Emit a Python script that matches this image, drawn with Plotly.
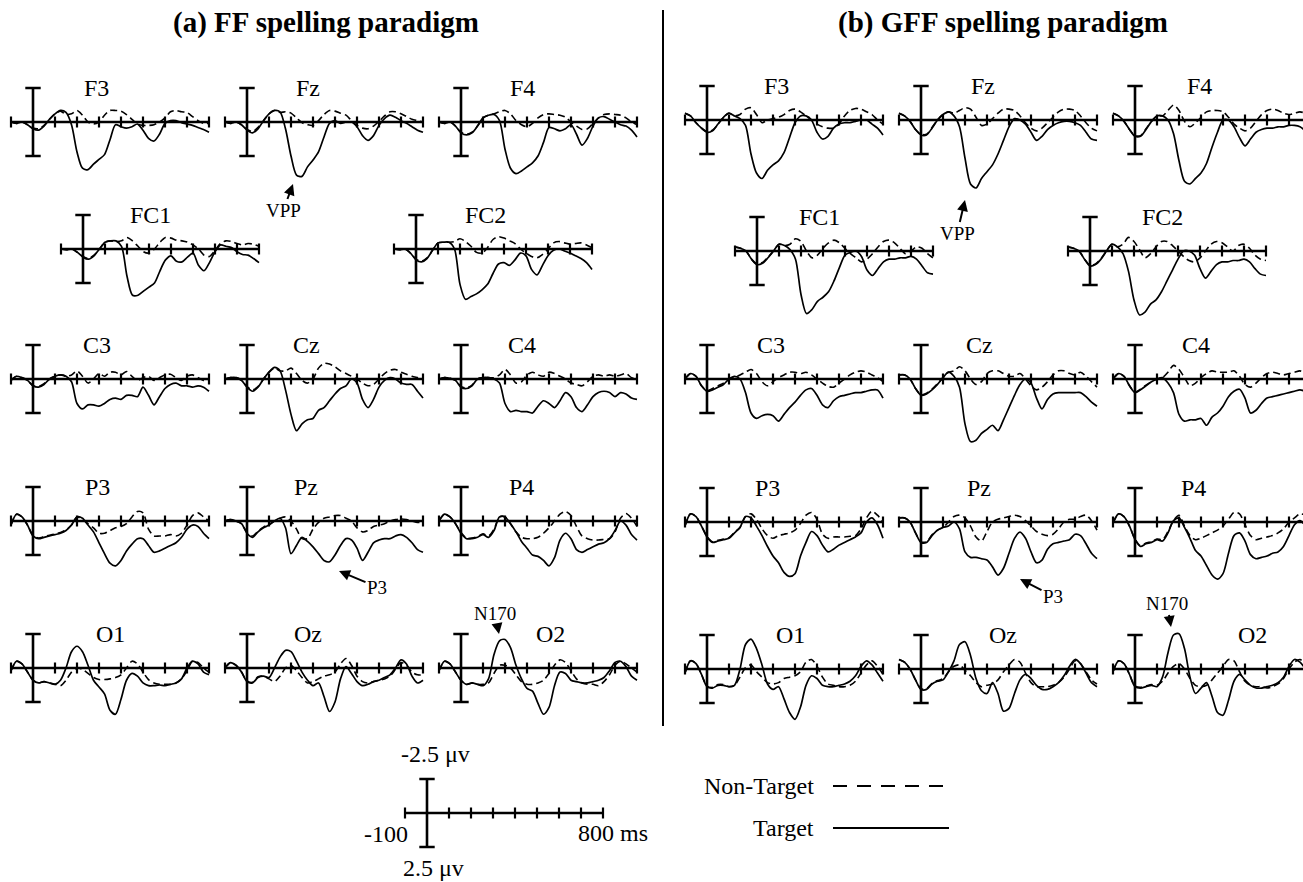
import plotly.graph_objects as go

W, H = 1303, 882
SERIF = "Liberation Serif, Times New Roman, serif"

# ---------------- time grid / scale constants ----------------
TIME_MS = [-100, -75, -50, -25, 0, 25, 50, 75, 100, 125, 150, 175, 200, 225, 250, 275,
           300, 325, 350, 375, 400, 425, 450, 475, 500, 525, 550, 575, 600, 625, 650,
           675, 700, 725, 750, 775, 800]
TICK_MS = [-100, 100, 200, 300, 400, 500, 600, 700, 800]
T_MIN, T_MAX = -100, 800
SCALE_UV = 2.5

# ---------------- (a) FF paradigm : amplitudes in microvolts (positive plotted down) ----------------
A_F3_TGT = [0.0, 0.1, 0.0, 0.2, 0.5, 0.6, 0.3, -0.2, -0.6, -0.85, -0.7, 0.2, 2.2, 3.4, 3.5, 3.1, 2.75, 2.4, 1.3, 0.2, 0.35, 0.45, 0.35, 0.15, 0.6, 1.2, 1.4, 0.9, 0.1, -0.1, -0.1, 0.05, 0.15, 0.25, 0.4, 0.55, 0.75]
A_F3_NT = [0.0, 0.1, 0.0, 0.2, 0.45, 0.5, 0.25, -0.2, -0.6, -0.8, -0.55, -0.6, -0.85, -0.5, 0.0, 0.15, 0.0, -0.5, -0.85, -0.85, -0.8, -0.55, -0.2, 0.15, 0.25, 0.25, 0.2, 0.0, -0.3, -0.75, -0.85, -0.75, -0.7, -0.4, -0.1, 0.1, 0.1]
A_FZ_TGT = [0.0, 0.1, 0.0, 0.2, 0.6, 0.8, 0.5, -0.1, -0.6, -0.85, -0.75, 0.5, 2.5, 3.9, 4.0, 3.3, 2.8, 2.2, 1.1, 0.1, -0.1, 0.1, 0.0, 0.0, 0.35, 1.0, 1.35, 1.0, 0.25, -0.25, -0.5, -0.35, -0.1, 0.1, 0.35, 0.6, 0.75]
A_FZ_NT = [0.0, 0.1, 0.0, 0.2, 0.55, 0.7, 0.4, -0.1, -0.6, -0.85, -0.7, -0.75, -0.65, -0.3, 0.05, 0.2, 0.25, -0.1, -0.55, -0.85, -0.8, -0.65, -0.5, -0.1, 0.25, 0.45, 0.5, 0.3, -0.05, -0.45, -0.75, -0.75, -0.6, -0.4, -0.2, -0.1, 0.0]
A_F4_TGT = [0.0, 0.1, 0.0, 0.3, 0.8, 0.95, 0.8, 0.3, -0.3, -0.5, -0.55, -0.1, 2.0, 3.4, 3.8, 3.6, 3.3, 3.0, 2.5, 1.5, 0.4, 0.5, 0.65, 0.5, 0.2, 0.9, 1.7, 1.2, 0.3, -0.3, -0.4, -0.2, 0.0, 0.2, 0.3, 0.6, 1.1]
A_F4_NT = [0.0, 0.1, 0.0, 0.3, 0.75, 0.9, 0.75, 0.3, -0.3, -0.5, -0.6, -0.75, -0.85, -0.6, -0.1, 0.2, 0.35, 0.1, -0.3, -0.55, -0.6, -0.55, -0.5, -0.35, 0.0, 0.3, 0.55, 0.5, 0.1, -0.3, -0.55, -0.6, -0.55, -0.5, -0.3, 0.0, 0.2]
A_FC1_TGT = [0.0, 0.05, 0.0, 0.25, 0.6, 0.75, 0.5, 0.0, -0.5, -0.6, -0.6, -0.2, 2.0, 3.4, 3.4, 3.1, 2.8, 2.5, 1.6, 0.8, 0.5, 0.9, 0.95, 0.6, 0.3, 1.2, 1.6, 1.0, 0.2, -0.3, -0.2, -0.1, 0.2, 0.4, 0.45, 0.7, 1.0]
A_FC1_NT = [0.0, 0.05, 0.0, 0.25, 0.55, 0.7, 0.45, 0.0, -0.5, -0.6, -0.55, -0.6, -0.85, -0.6, -0.2, 0.2, 0.3, 0.0, -0.5, -0.85, -0.8, -0.65, -0.6, -0.5, -0.3, 0.0, 0.45, 0.55, 0.1, -0.4, -0.6, -0.55, -0.4, -0.3, -0.4, -0.35, -0.2]
A_FC2_TGT = [0.0, 0.05, 0.0, 0.3, 0.8, 0.95, 0.7, 0.1, -0.45, -0.5, -0.5, 0.0, 2.6, 3.7, 3.5, 3.3, 3.0, 2.6, 1.8, 1.1, 1.0, 1.2, 0.8, 0.3, 0.5, 1.5, 1.9, 1.2, 0.5, 0.1, 0.0, 0.15, 0.3, 0.5, 0.7, 1.0, 1.5]
A_FC2_NT = [0.0, 0.05, 0.0, 0.3, 0.75, 0.9, 0.65, 0.1, -0.45, -0.5, -0.5, -0.55, -0.75, -0.55, -0.2, 0.25, 0.3, -0.1, -0.7, -0.9, -0.8, -0.6, -0.4, 0.0, 0.3, 0.55, 0.65, 0.4, 0.0, -0.45, -0.55, -0.45, -0.35, -0.4, -0.45, -0.3, -0.1]
A_C3_TGT = [0.1, -0.2, -0.1, 0.1, 0.5, 0.6, 0.4, 0.0, -0.2, -0.3, -0.2, 0.2, 1.8, 2.2, 1.9, 1.9, 2.0, 1.8, 1.5, 1.4, 1.5, 1.2, 1.2, 1.3, 0.6, 1.2, 1.9, 1.3, 0.7, 0.4, 0.3, 0.5, 0.5, 0.6, 0.5, 0.6, 0.9]
A_C3_NT = [0.1, -0.2, -0.1, 0.1, 0.5, 0.55, 0.35, 0.0, -0.2, -0.3, -0.2, -0.3, -0.6, -0.2, 0.3, 0.0, -0.4, -0.2, -0.5, -0.5, -0.3, -0.55, -0.2, 0.1, -0.1, -0.2, 0.1, -0.1, -0.3, -0.35, -0.1, 0.1, -0.2, -0.3, -0.1, 0.1, 0.1]
A_CZ_TGT = [0.0, -0.1, -0.1, 0.1, 0.6, 0.9, 0.6, 0.0, -0.5, -0.85, -0.6, 0.8, 2.6, 3.8, 3.3, 3.0, 2.9, 2.3, 2.1, 1.6, 1.1, 0.7, 0.5, 0.0, 0.3, 1.5, 2.1, 1.5, 0.6, 0.1, -0.1, 0.0, 0.3, 0.4, 0.4, 0.9, 1.4]
A_CZ_NT = [0.0, -0.1, -0.1, 0.1, 0.55, 0.8, 0.55, 0.0, -0.5, -0.8, -0.6, -0.6, -0.8, -0.4, 0.1, 0.3, 0.0, -0.8, -1.15, -1.1, -0.9, -0.6, -0.4, -0.2, 0.0, 0.3, 0.5, 0.4, 0.0, -0.4, -0.65, -0.7, -0.5, -0.35, -0.2, -0.1, 0.0]
A_C4_TGT = [0.0, -0.1, -0.05, 0.1, 0.6, 0.7, 0.5, 0.0, -0.1, -0.1, 0.0, 0.3, 1.8, 2.4, 2.3, 2.4, 2.4, 2.5, 2.0, 1.6, 1.8, 2.1, 1.6, 1.0, 1.3, 2.1, 2.4, 1.9, 1.3, 1.0, 0.9, 1.0, 1.3, 1.0, 1.1, 1.4, 1.5]
A_C4_NT = [0.0, -0.1, -0.05, 0.1, 0.55, 0.65, 0.45, 0.0, -0.1, -0.1, -0.1, -0.3, -0.7, -0.3, 0.3, 0.2, -0.3, -0.5, -0.3, -0.2, -0.5, -0.4, -0.2, 0.0, 0.3, 0.4, 0.5, 0.2, -0.2, -0.3, -0.2, -0.3, -0.2, -0.3, -0.4, -0.1, 0.0]
A_P3_TGT = [0.3, -0.5, -0.3, 0.3, 1.1, 1.3, 1.2, 1.1, 1.0, 0.9, 0.7, 0.3, -0.3, -0.2, 0.3, 0.8, 1.6, 2.4, 3.1, 3.3, 2.9, 2.2, 1.7, 1.3, 1.3, 1.8, 2.3, 2.2, 2.0, 1.8, 1.6, 1.2, 0.6, 0.3, 0.4, 0.9, 1.3]
A_P3_NT = [0.3, -0.5, -0.3, 0.3, 1.05, 1.25, 1.15, 1.05, 0.95, 0.85, 0.65, 0.3, -0.3, -0.1, 0.2, 0.5, 0.9, 0.9, 0.7, 0.5, 0.4, 0.2, -0.3, -0.7, -0.6, 0.6, 1.1, 1.1, 1.1, 1.0, 1.1, 0.9, 0.3, -0.4, -0.6, -0.3, 0.0]
A_PZ_TGT = [0.0, -0.1, 0.0, 0.2, 0.9, 1.2, 0.8, 0.5, 0.3, 0.0, -0.2, 0.5, 2.4, 1.8, 1.2, 1.5, 1.9, 2.4, 2.9, 3.0, 2.5, 1.8, 1.3, 1.4, 2.0, 2.9, 2.3, 1.6, 1.4, 1.3, 1.3, 1.1, 1.0, 1.2, 1.6, 2.1, 2.3]
A_PZ_NT = [0.0, -0.1, 0.0, 0.2, 0.85, 1.1, 0.75, 0.45, 0.25, 0.0, -0.2, -0.3, 0.0, 0.6, 1.3, 1.3, 0.6, 0.1, -0.2, -0.3, -0.4, -0.4, -0.2, 0.0, 0.5, 0.8, 0.7, 0.4, 0.3, 0.2, 0.0, -0.1, -0.15, -0.1, 0.0, 0.1, 0.1]
A_P4_TGT = [0.0, -0.5, -0.3, 0.2, 0.9, 1.3, 1.3, 1.2, 1.0, 1.2, 0.7, -0.3, -0.3, 0.2, 0.8, 1.5, 2.0, 2.5, 2.6, 2.9, 3.3, 2.7, 1.4, 0.9, 1.3, 2.1, 2.3, 2.1, 1.9, 1.7, 1.6, 1.3, 0.7, 0.0, 0.3, 1.0, 1.4]
A_P4_NT = [0.0, -0.5, -0.3, 0.2, 0.85, 1.25, 1.25, 1.15, 0.95, 1.1, 0.6, -0.3, -0.3, 0.2, 0.8, 1.2, 1.3, 1.3, 1.2, 0.9, 0.5, 0.0, -0.5, -0.7, -0.4, 0.4, 1.1, 1.3, 1.4, 1.4, 1.35, 1.3, 0.8, -0.2, -0.55, -0.2, 0.4]
A_O1_TGT = [0.2, -0.5, -0.3, 0.3, 0.9, 1.1, 1.0, 1.1, 1.2, 0.9, 0.0, -1.2, -1.6, -1.2, -0.2, 0.9, 1.4, 1.9, 3.1, 3.4, 2.3, 0.9, 0.4, 0.6, 1.1, 1.3, 1.3, 1.25, 1.3, 1.2, 1.1, 0.8, 0.0, -0.5, -0.3, 0.3, 0.5]
A_O1_NT = [0.2, -0.5, -0.3, 0.3, 0.9, 1.1, 1.0, 1.1, 1.2, 1.3, 0.9, 0.3, 0.0, 0.1, 0.4, 0.7, 0.85, 0.85, 0.8, 0.7, 0.5, 0.0, -0.5, -0.3, 0.3, 0.85, 1.1, 1.2, 1.2, 1.2, 1.1, 0.8, 0.2, -0.5, -0.4, 0.0, 0.3]
A_OZ_TGT = [0.0, -0.4, -0.2, 0.3, 1.0, 1.1, 0.7, 0.6, 0.7, 0.0, -0.8, -1.3, -1.2, -0.5, 0.3, 0.9, 1.3, 1.1, 2.1, 3.2, 2.5, 0.8, -0.1, 0.4, 1.0, 1.3, 1.2, 1.0, 0.9, 0.7, 0.5, 0.0, -0.6, -0.3, 0.6, 1.1, 0.9]
A_OZ_NT = [0.0, -0.4, -0.2, 0.3, 0.95, 1.05, 0.65, 0.6, 0.8, 1.0, 0.6, 0.0, -0.2, 0.2, 0.7, 1.1, 1.0, 0.8, 0.6, 0.5, 0.3, -0.3, -0.7, -0.2, 0.6, 1.0, 1.1, 1.0, 0.9, 0.8, 0.6, 0.1, -0.4, -0.2, 0.3, 0.5, 0.5]
A_O2_TGT = [0.2, -0.5, -0.3, 0.3, 0.9, 1.2, 1.1, 1.2, 1.3, 0.8, -1.0, -2.0, -2.1, -1.5, -0.2, 0.8, 1.5, 1.7, 2.6, 3.4, 2.9, 1.3, 0.3, 0.4, 0.9, 1.0, 1.1, 1.1, 1.0, 0.9, 0.7, 0.2, -0.4, -0.5, -0.1, 0.6, 0.9]
A_O2_NT = [0.2, -0.5, -0.3, 0.3, 0.9, 1.2, 1.1, 1.2, 1.2, 1.1, 0.4, -0.2, -0.2, 0.0, 0.5, 1.0, 1.2, 1.2, 1.1, 0.9, 0.4, -0.2, -0.6, -0.4, 0.2, 0.8, 1.1, 1.2, 1.2, 1.3, 1.0, 0.5, -0.2, -0.5, -0.3, 0.0, 0.3]

# ---------------- (b) GFF paradigm ----------------
B_F3_TGT = [-0.5, -0.3, 0.2, 0.6, 0.9, 0.8, 0.3, -0.2, -0.5, -0.3, -0.1, 0.4, 2.5, 3.9, 4.3, 3.7, 3.3, 3.0, 2.4, 1.3, 0.2, -0.3, -0.3, 0.0, 0.9, 1.4, 1.2, 0.6, 0.3, 0.2, 0.2, 0.1, 0.0, 0.0, 0.3, 0.6, 1.1]
B_F3_NT = [-0.5, -0.3, 0.2, 0.6, 0.85, 0.75, 0.3, -0.2, -0.5, -0.3, -0.4, -0.8, -0.9, -0.4, 0.2, 0.0, -0.1, -0.2, -0.4, -0.7, -0.8, -0.6, -0.3, 0.0, 0.3, 0.5, 0.6, 0.6, 0.3, -0.3, -0.7, -0.85, -0.8, -0.6, -0.4, 0.0, 0.3]
B_FZ_TGT = [-0.5, -0.3, 0.1, 0.7, 1.1, 1.1, 0.6, 0.0, -0.4, -0.6, -0.3, 0.5, 2.8, 4.7, 5.0, 4.3, 3.8, 3.3, 2.5, 1.5, 0.5, -0.1, 0.0, 0.3, 0.9, 1.5, 1.2, 0.7, 0.4, 0.2, 0.1, 0.1, 0.2, 0.4, 0.9, 1.4, 1.5]
B_FZ_NT = [-0.5, -0.3, 0.1, 0.7, 1.05, 1.05, 0.55, 0.0, -0.4, -0.6, -0.5, -0.7, -0.9, -0.8, -0.2, 0.4, 0.3, -0.1, -0.5, -0.8, -0.8, -0.7, -0.3, 0.2, 0.6, 0.8, 0.6, 0.2, -0.2, -0.6, -0.8, -0.8, -0.7, -0.3, 0.2, 0.6, 0.8]
B_F4_TGT = [-0.5, -0.3, 0.1, 0.7, 1.2, 1.2, 0.7, 0.1, -0.3, -0.3, 0.0, 1.0, 3.0, 4.5, 4.7, 4.3, 3.9, 3.2, 2.0, 0.9, 0.0, 0.0, 0.5, 1.3, 1.9, 1.4, 0.9, 0.7, 0.6, 0.6, 0.5, 0.5, 0.4, 0.4, 0.5, 0.8, 1.1]
B_F4_NT = [-0.5, -0.3, 0.1, 0.7, 1.15, 1.15, 0.65, 0.1, -0.3, -0.3, -0.7, -1.1, -0.7, 0.1, 0.5, 0.2, -0.2, -0.6, -0.7, -0.7, -0.6, -0.2, 0.3, 0.6, 0.8, 0.6, 0.1, -0.4, -0.7, -0.8, -0.7, -0.5, -0.4, -0.5, -0.6, -0.5, -0.4]
B_FC1_TGT = [-0.3, -0.2, 0.0, 0.6, 1.0, 0.9, 0.5, 0.0, -0.5, -0.4, -0.1, 0.6, 3.2, 4.6, 4.3, 3.7, 3.4, 3.0, 2.2, 1.2, 0.3, 0.1, 0.0, 0.4, 1.4, 1.8, 1.3, 0.8, 0.6, 0.6, 0.5, 0.5, 0.4, 0.6, 1.1, 1.6, 1.7]
B_FC1_NT = [-0.3, -0.2, 0.0, 0.6, 0.95, 0.85, 0.45, 0.0, -0.5, -0.4, -0.5, -0.9, -0.7, 0.0, 0.5, 0.3, -0.2, -0.6, -0.8, -0.6, -0.2, 0.2, 0.5, 0.8, 0.6, 0.2, -0.3, -0.7, -0.8, -0.6, -0.2, 0.2, 0.0, -0.3, -0.2, 0.2, 0.5]
B_FC2_TGT = [-0.3, -0.2, 0.0, 0.6, 1.1, 1.0, 0.6, 0.0, -0.5, -0.3, 0.2, 1.5, 3.6, 4.7, 4.5, 3.9, 3.6, 3.0, 2.2, 1.4, 0.6, 0.0, 0.0, 0.3, 1.3, 2.0, 1.5, 1.0, 0.8, 0.8, 0.7, 0.7, 0.6, 0.8, 1.3, 1.7, 1.8]
B_FC2_NT = [-0.3, -0.2, 0.0, 0.6, 1.05, 0.95, 0.55, 0.0, -0.5, -0.3, -0.5, -1.0, -0.7, -0.1, 0.5, 0.2, -0.3, -0.7, -0.7, -0.4, 0.0, 0.4, 0.7, 0.8, 0.5, 0.0, -0.5, -0.7, -0.6, -0.3, 0.0, -0.4, -0.5, -0.2, 0.3, 0.6, 0.7]
B_C3_TGT = [0.0, -0.4, -0.2, 0.5, 0.9, 0.8, 0.6, 0.4, 0.0, -0.2, 0.0, 1.0, 2.5, 2.9, 2.7, 2.6, 2.7, 3.1, 2.6, 2.1, 1.7, 1.2, 0.8, 0.7, 1.2, 1.9, 2.1, 1.6, 1.3, 1.2, 1.1, 1.0, 1.0, 0.9, 0.8, 0.8, 1.4]
B_C3_NT = [0.0, -0.4, -0.2, 0.5, 0.85, 0.7, 0.5, 0.3, 0.0, -0.1, -0.3, -0.5, -0.7, -0.4, 0.2, 0.5, 0.2, -0.1, -0.3, -0.5, -0.5, -0.4, -0.5, -0.3, 0.0, 0.3, 0.55, 0.6, 0.3, 0.0, -0.3, -0.5, -0.6, -0.5, -0.3, -0.1, 0.2]
B_CZ_TGT = [-0.3, -0.3, 0.0, 0.7, 1.2, 1.1, 0.8, 0.4, -0.1, -0.5, -0.2, 0.6, 3.3, 4.6, 4.5, 4.0, 3.7, 3.4, 3.8, 3.0, 2.1, 1.2, 0.4, 0.0, 0.3, 1.4, 2.2, 1.5, 1.1, 1.0, 1.0, 1.0, 1.0, 1.0, 1.3, 1.7, 2.0]
B_CZ_NT = [-0.3, -0.3, 0.0, 0.7, 1.15, 1.05, 0.75, 0.35, -0.1, -0.5, -0.6, -0.9, -0.6, 0.0, 0.4, 0.2, -0.4, -0.6, -0.6, -0.4, -0.2, -0.2, -0.4, 0.0, 0.5, 0.8, 0.6, 0.2, -0.3, -0.6, -0.6, -0.4, -0.3, -0.5, -0.2, 0.2, 0.6]
B_C4_TGT = [0.0, -0.4, -0.2, 0.5, 1.0, 0.8, 0.5, 0.2, 0.0, -0.1, 0.3, 1.0, 2.6, 3.1, 3.0, 3.0, 2.9, 3.4, 2.8, 2.5, 2.0, 1.3, 0.9, 0.75, 1.4, 2.5, 2.3, 1.8, 1.4, 1.3, 1.2, 1.1, 1.0, 0.9, 0.8, 0.9, 1.0]
B_C4_NT = [0.0, -0.4, -0.2, 0.5, 0.95, 0.75, 0.45, 0.2, 0.0, -0.1, -0.5, -1.0, -0.7, -0.1, 0.5, 0.3, -0.1, -0.4, -0.6, -0.5, -0.5, -0.5, -0.6, -0.2, 0.4, 0.6, 0.3, -0.1, -0.4, -0.5, -0.4, -0.3, -0.4, -0.5, -0.6, -0.4, -0.2]
B_P3_TGT = [0.3, -0.6, -0.4, 0.3, 1.1, 1.5, 1.4, 1.3, 1.2, 0.8, 0.4, -0.4, -0.3, 0.3, 1.0, 1.8, 2.5, 3.0, 3.7, 4.0, 3.8, 2.5, 1.5, 0.7, 1.0, 1.7, 2.2, 2.0, 1.7, 1.5, 1.3, 1.1, 0.8, 0.0, -0.3, 0.2, 1.2]
B_P3_NT = [0.3, -0.6, -0.4, 0.3, 1.05, 1.45, 1.35, 1.25, 1.15, 0.75, 0.4, -0.4, -0.6, -0.2, 0.5, 1.0, 1.2, 1.0, 0.9, 0.8, 0.6, 0.1, -0.5, -0.7, -0.2, 0.9, 1.2, 1.1, 1.1, 1.1, 1.05, 1.0, 0.5, -0.3, -0.8, -0.5, 0.0]
B_PZ_TGT = [-0.3, -0.3, 0.0, 0.8, 1.5, 1.5, 1.0, 0.6, 0.4, 0.3, 0.0, 0.5, 2.2, 2.6, 2.6, 2.7, 2.8, 3.3, 3.9, 3.4, 2.3, 1.2, 0.75, 1.2, 2.2, 3.0, 2.8, 2.0, 1.6, 1.5, 1.4, 1.3, 0.9, 1.0, 1.6, 2.3, 2.7]
B_PZ_NT = [-0.3, -0.3, 0.0, 0.8, 1.45, 1.45, 0.95, 0.6, 0.4, 0.0, -0.4, -0.5, -0.3, 0.3, 1.1, 1.4, 0.7, 0.0, -0.2, -0.3, -0.4, -0.5, -0.4, -0.1, 0.3, 0.7, 0.9, 1.0, 0.9, 0.5, 0.0, -0.2, -0.2, -0.4, -0.5, -0.1, 0.6]
B_P4_TGT = [0.1, -0.6, -0.4, 0.3, 1.3, 1.8, 1.6, 1.5, 1.3, 1.4, 0.8, -0.1, -0.3, 0.4, 1.2, 2.1, 2.5, 3.2, 3.9, 4.2, 3.8, 2.3, 1.0, 0.8, 1.4, 2.4, 2.7, 2.6, 2.5, 2.3, 2.2, 1.8, 1.0, 0.2, -0.1, 0.3, 1.0]
B_P4_NT = [0.1, -0.6, -0.4, 0.3, 1.25, 1.75, 1.55, 1.45, 1.25, 1.3, 0.7, -0.1, -0.5, 0.3, 1.0, 1.3, 1.2, 1.0, 0.8, 0.6, 0.3, -0.2, -0.7, -0.6, 0.2, 1.0, 1.3, 1.2, 1.1, 1.0, 0.8, 0.5, 0.0, -0.3, -0.6, -0.5, -0.2]
B_O1_TGT = [0.3, -0.6, -0.4, 0.4, 1.3, 1.4, 1.2, 1.2, 1.3, 1.2, 0.0, -1.8, -2.2, -1.5, -0.3, 1.1, 1.5, 1.3, 2.2, 3.2, 3.7, 2.8, 1.2, 0.5, 0.7, 1.2, 1.3, 1.3, 1.2, 1.1, 0.9, 0.5, -0.2, -0.6, -0.3, 0.3, 0.9]
B_O1_NT = [0.3, -0.6, -0.4, 0.4, 1.25, 1.35, 1.15, 1.15, 1.3, 1.2, 0.6, -0.1, -0.3, 0.2, 0.6, 1.0, 1.1, 1.0, 0.7, 0.6, 0.5, 0.2, -0.5, -0.7, -0.2, 0.6, 1.1, 1.2, 1.3, 1.3, 1.2, 0.9, 0.3, -0.3, -0.6, -0.2, 0.4]
B_OZ_TGT = [-0.7, -0.5, 0.0, 0.8, 1.5, 1.5, 1.1, 0.9, 0.8, 0.2, -0.6, -1.8, -2.0, -1.0, 0.7, 1.6, 1.8, 1.0, 1.8, 3.1, 2.9, 1.8, 0.8, 0.4, 0.7, 1.2, 1.5, 1.5, 1.3, 1.0, 0.5, -0.2, -0.7, -0.4, 0.3, 1.0, 1.3]
B_OZ_NT = [-0.7, -0.5, 0.0, 0.8, 1.45, 1.45, 1.05, 0.85, 0.7, 0.2, -0.2, -0.3, 0.1, 0.5, 1.0, 1.3, 1.2, 1.1, 0.8, 0.2, -0.3, -0.7, -0.5, 0.3, 1.0, 1.3, 1.3, 1.3, 1.2, 1.0, 0.6, 0.0, -0.6, -0.4, 0.2, 0.8, 1.1]
B_O2_TGT = [0.2, -0.6, -0.4, 0.4, 1.3, 1.4, 1.3, 1.2, 1.3, 0.6, -1.2, -2.5, -2.6, -1.5, 0.6, 1.8, 1.4, 1.0, 2.0, 3.2, 3.4, 2.3, 0.9, 0.4, 0.8, 1.2, 1.4, 1.4, 1.3, 1.2, 1.0, 0.6, -0.2, -0.7, -0.5, 0.0, 0.5]
B_O2_NT = [0.2, -0.6, -0.4, 0.4, 1.25, 1.35, 1.25, 1.15, 1.2, 0.9, 0.3, -0.2, -0.4, 0.0, 0.7, 1.2, 1.3, 1.2, 0.8, 0.3, -0.2, -0.7, -0.6, 0.2, 0.9, 1.2, 1.3, 1.3, 1.4, 1.3, 1.1, 0.7, 0.0, -0.5, -0.7, -0.3, 0.2]

CHANNELS = ["F3", "Fz", "F4", "FC1", "FC2", "C3", "Cz", "C4", "P3", "Pz", "P4", "O1", "Oz", "O2"]
SERIES_A = {"F3": (A_F3_NT, A_F3_TGT), "Fz": (A_FZ_NT, A_FZ_TGT), "F4": (A_F4_NT, A_F4_TGT),
            "FC1": (A_FC1_NT, A_FC1_TGT), "FC2": (A_FC2_NT, A_FC2_TGT),
            "C3": (A_C3_NT, A_C3_TGT), "Cz": (A_CZ_NT, A_CZ_TGT), "C4": (A_C4_NT, A_C4_TGT),
            "P3": (A_P3_NT, A_P3_TGT), "Pz": (A_PZ_NT, A_PZ_TGT), "P4": (A_P4_NT, A_P4_TGT),
            "O1": (A_O1_NT, A_O1_TGT), "Oz": (A_OZ_NT, A_OZ_TGT), "O2": (A_O2_NT, A_O2_TGT)}
SERIES_B = {"F3": (B_F3_NT, B_F3_TGT), "Fz": (B_FZ_NT, B_FZ_TGT), "F4": (B_F4_NT, B_F4_TGT),
            "FC1": (B_FC1_NT, B_FC1_TGT), "FC2": (B_FC2_NT, B_FC2_TGT),
            "C3": (B_C3_NT, B_C3_TGT), "Cz": (B_CZ_NT, B_CZ_TGT), "C4": (B_C4_NT, B_C4_TGT),
            "P3": (B_P3_NT, B_P3_TGT), "Pz": (B_PZ_NT, B_PZ_TGT), "P4": (B_P4_NT, B_P4_TGT),
            "O1": (B_O1_NT, B_O1_TGT), "Oz": (B_OZ_NT, B_OZ_TGT), "O2": (B_O2_NT, B_O2_TGT)}

# ---------------- layout geometry (pixels) ----------------
PX_PER_MS = 0.22
PX_PER_UV = 13.6
V_UP, V_DOWN = -4.2, 6.0
PAD_MS = 12
ROW_OF = {"F3": "F", "Fz": "F", "F4": "F", "FC1": "FC", "FC2": "FC", "C3": "C", "Cz": "C", "C4": "C",
          "P3": "P", "Pz": "P", "P4": "P", "O1": "O", "Oz": "O", "O2": "O"}
ZERO_X_A = {"F3": 33, "Fz": 247, "F4": 461, "FC1": 83, "FC2": 416, "C3": 33, "Cz": 247, "C4": 461,
            "P3": 33, "Pz": 247, "P4": 461, "O1": 33, "Oz": 247, "O2": 461}
SHIFT_B = 674
ROW_Y_A = {"F": 122, "FC": 249, "C": 379, "P": 521, "O": 668}
ROW_Y_B = {"F": 120, "FC": 251, "C": 379, "P": 522, "O": 669}
LABEL_MS_A = {"F3": 290, "Fz": 275, "F4": 278, "FC1": 305, "FC2": 314, "C3": 290, "Cz": 272, "C4": 277,
              "P3": 295, "Pz": 268, "P4": 277, "O1": 350, "Oz": 277, "O2": 405}
LABEL_MS_B = {"F3": 315, "Fz": 282, "F4": 295, "FC1": 286, "FC2": 330, "C3": 291, "Cz": 268, "C4": 277,
              "P3": 277, "Pz": 263, "P4": 268, "O1": 380, "Oz": 373, "O2": 536}

fig = go.Figure()
layout_axes = {}
annotations = []
BLACK = "black"


def add_axes(k, zero_x, axis_y):
    left = zero_x + (T_MIN - PAD_MS) * PX_PER_MS
    right = zero_x + (T_MAX + PAD_MS) * PX_PER_MS
    xmax = T_MAX + PAD_MS
    if right > W:
        right = W
        xmax = (W - zero_x) / PX_PER_MS
    top = axis_y + V_UP * PX_PER_UV
    bottom = axis_y + V_DOWN * PX_PER_UV
    vdown = V_DOWN
    if bottom > H:
        bottom = H
        vdown = (H - axis_y) / PX_PER_UV
    xn = "xaxis" if k == 1 else f"xaxis{k}"
    yn = "yaxis" if k == 1 else f"yaxis{k}"
    common = dict(visible=False, showgrid=False, zeroline=False, fixedrange=True)
    layout_axes[xn] = dict(domain=[max(0, left / W), min(1, right / W)], range=[T_MIN - PAD_MS, xmax],
                           anchor=f"y{k}", **common)
    layout_axes[yn] = dict(domain=[max(0, 1 - bottom / H), min(1, 1 - top / H)], range=[vdown, V_UP],
                           anchor=f"x{k}", **common)
    return f"x{k}", f"y{k}"


def add_scaffold(xr, yr):
    fig.add_trace(go.Scatter(x=[T_MIN, T_MAX], y=[0, 0], mode="lines", xaxis=xr, yaxis=yr,
                             line=dict(color=BLACK, width=2.6), hoverinfo="skip"))
    fig.add_trace(go.Scatter(x=TICK_MS, y=[0] * len(TICK_MS), mode="markers", xaxis=xr, yaxis=yr,
                             marker=dict(symbol="line-ns", size=8, color=BLACK,
                                         line=dict(color=BLACK, width=2.2)), hoverinfo="skip"))
    fig.add_trace(go.Scatter(x=[0, 0], y=[-SCALE_UV, SCALE_UV], mode="lines+markers", xaxis=xr, yaxis=yr,
                             line=dict(color=BLACK, width=2.6),
                             marker=dict(symbol="line-ew", size=11, color=BLACK,
                                         line=dict(color=BLACK, width=2.6)), hoverinfo="skip"))


k = 0
for panel, series, shift, rows, label_ms in (("a", SERIES_A, 0, ROW_Y_A, LABEL_MS_A),
                                              ("b", SERIES_B, SHIFT_B, ROW_Y_B, LABEL_MS_B)):
    for ch in CHANNELS:
        k += 1
        xr, yr = add_axes(k, ZERO_X_A[ch] + shift, rows[ROW_OF[ch]])
        add_scaffold(xr, yr)
        nt, tg = series[ch]
        fig.add_trace(go.Scatter(x=TIME_MS, y=nt, mode="lines", xaxis=xr, yaxis=yr, name="Non-Target",
                                 line=dict(color=BLACK, width=1.6, dash="7px,4px", shape="spline",
                                           smoothing=0.8)))
        fig.add_trace(go.Scatter(x=TIME_MS, y=tg, mode="lines", xaxis=xr, yaxis=yr, name="Target",
                                 line=dict(color=BLACK, width=1.7, shape="spline", smoothing=0.8)))
        annotations.append(dict(x=label_ms[ch], y=-SCALE_UV, xref=xr, yref=yr, text=ch, showarrow=False,
                                font=dict(family=SERIF, size=24, color=BLACK),
                                xanchor="center", yanchor="middle"))

# scale bar subplot
k += 1
SCALE_ZERO_X, SCALE_AXIS_Y = 427, 813
sx, sy = add_axes(k, SCALE_ZERO_X, SCALE_AXIS_Y)
add_scaffold(sx, sy)


def px(xp):
    return xp / W


def py(yp):
    return 1 - yp / H


def text(xp, yp, s, size=24, anchor="center", bold=False):
    annotations.append(dict(x=px(xp), y=py(yp), xref="paper", yref="paper",
                            text=f"<b>{s}</b>" if bold else s, showarrow=False,
                            font=dict(family=SERIF, size=size, color=BLACK),
                            xanchor=anchor, yanchor="middle"))


text(326, 23, "(a) FF spelling paradigm", size=29, bold=True)
text(1003, 23, "(b) GFF spelling paradigm", size=29, bold=True)
text(435, 754, "-2.5 μv", size=24)
text(433, 868, "2.5 μv", size=24)
text(410, 834, "-100", size=24, anchor="right")
text(576, 833, "800 ms", size=24, anchor="left")
text(816, 786, "Non-Target", size=24, anchor="right")
text(816, 828, "Target", size=24, anchor="right")


def arrow(tip_x, tip_y, txt_x, txt_y, s):
    annotations.append(dict(x=px(tip_x), y=py(tip_y), xref="paper", yref="paper", text=s,
                            showarrow=True, ax=txt_x - tip_x, ay=txt_y - tip_y,
                            arrowhead=2, arrowsize=1.1, arrowwidth=2, arrowcolor=BLACK,
                            font=dict(family=SERIF, size=19, color=BLACK)))


arrow(293, 184, 283, 211, "VPP")
arrow(339, 571, 377, 587, "P3")
arrow(499, 634, 495, 613, "N170")
arrow(965, 200, 957, 234, "VPP")
arrow(1020, 579, 1053, 596, "P3")
arrow(1171, 627, 1167, 603, "N170")

shapes = [
    dict(type="line", xref="paper", yref="paper", x0=px(663), x1=px(663), y0=py(10), y1=py(726),
         line=dict(color=BLACK, width=2)),
    dict(type="line", xref="paper", yref="paper", x0=px(833), x1=px(949), y0=py(786), y1=py(786),
         line=dict(color=BLACK, width=2, dash="14px,10px")),
    dict(type="line", xref="paper", yref="paper", x0=px(833), x1=px(949), y0=py(828), y1=py(828),
         line=dict(color=BLACK, width=2)),
]

fig.update_layout(width=W, height=H, autosize=False, showlegend=False,
                  margin=dict(l=0, r=0, t=0, b=0, pad=0),
                  paper_bgcolor="white", plot_bgcolor="rgba(0,0,0,0)",
                  annotations=annotations, shapes=shapes, **layout_axes)
# remove the browser's default 8px body margin so the figure sits at the page origin
fig.write_html("out.html", config={"displayModeBar": False, "staticPlot": True},
               post_script="document.body.style.margin='0';document.body.style.overflow='hidden';")
